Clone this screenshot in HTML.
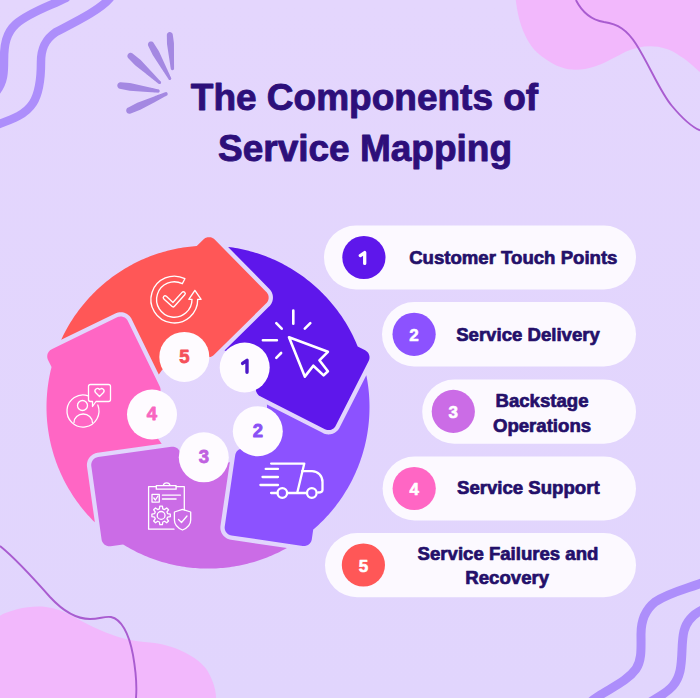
<!DOCTYPE html>
<html><head><meta charset="utf-8"><style>
html,body{margin:0;padding:0;background:#e4d6fd;overflow:hidden;width:700px;height:698px;}
svg{display:block;font-family:"Liberation Sans",sans-serif;}
</style></head><body>
<svg width="700" height="698" viewBox="0 0 700 698">
<defs><linearGradient id="bgg" x1="0" y1="0" x2="0" y2="1"><stop offset="0" stop-color="#e4d6fd"/><stop offset="1" stop-color="#e1d5fd"/></linearGradient></defs><rect width="700" height="698" fill="url(#bgg)"/>

<path d="M515.8 0 C518 20 525 45 543 57.3 C560 70 572 71 585 69 C600 66 610 60 625 52 C645 43 665 45 680 56 C690 62 697 70 700 72 L700 0 Z" fill="#f2b8fc"/>
<path d="M575.9 0 C582 12 592 20 604 22 C618 24 627 30 636 44 C650 66 660 92 672 106 C682 118 692 127 700 130.4" fill="none" stroke="#a95cd0" stroke-width="1.9"/>
<path d="M0 615.7 C10 610 30 605 46 607 C65 609 80 622 100 630 C115 637 135 642 150 642.5 C175 645 198 657 207 670 C213 680 216 690 216 698 L0 698 Z" fill="#f2b8fc"/>
<path d="M0 546 C15 558 35 580 50 597 C62 610 75 619 90 619 C100 619 104 616 111 617 C121 619 129 633 133 655 C136 672 137 686 136 698" fill="none" stroke="#a95cd0" stroke-width="1.9"/>
<path d="M66 -2 C50 6 30 12 16 24 C6 33 4 45 4 60 C4 72 4 82 -4 92" fill="none" stroke="#ad8efb" stroke-width="8.5" stroke-linecap="round"/>
<path d="M110 -2 C100 10 75 22 56 32 C44 40 41 50 41 62 C41 75 40 92 33 103 C26 114 14 119 -4 125" fill="none" stroke="#ad8efb" stroke-width="8.5" stroke-linecap="round"/>
<path d="M704 582 C690 588 670 592 655 602 C645 610 641 620 641 634 C641 648 642 660 636 669 C628 680 615 686 602 694 C596 698 592 700 590 703" fill="none" stroke="#ad8efb" stroke-width="9" stroke-linecap="round"/>
<path d="M704 609 C695 613 687 619 684 631 C681 643 683 657 680 671 C677 684 670 690 660 696 C655 699 652 701 649 703" fill="none" stroke="#ad8efb" stroke-width="9" stroke-linecap="round"/>
<path d="M172.16 33.19 L171.90 32.90 L171.29 32.42 L170.57 32.13 L170.19 32.05 L169.41 32.05 L168.66 32.25 L168.31 32.42 L167.70 32.90 L167.22 33.51 L166.93 34.23 L166.83 35.00 L167.01 44.04 L170.20 64.93 L170.20 65.32 L170.32 65.78 L170.33 66.17 L170.45 66.63 L170.46 67.02 L170.58 67.48 L170.59 67.87 L170.71 68.33 L170.71 68.72 L170.93 69.35 L171.37 69.85 L171.96 70.14 L172.40 70.20 L173.05 70.07 L173.60 69.70 L173.97 69.15 L174.10 68.50 L174.04 68.06 L174.09 67.64 L174.04 67.20 L174.09 66.78 L174.03 66.34 L174.08 65.92 L174.03 65.48 L174.08 65.06 L174.03 64.62 L173.95 43.59 L173.83 42.28 L172.75 34.61 L172.55 33.86 L172.16 33.19Z" fill="#a488e2"/><path d="M153.16 42.34 L152.53 41.85 L151.79 41.54 L151.00 41.44 L150.21 41.54 L149.47 41.85 L149.14 42.07 L148.84 42.34 L148.35 42.97 L148.04 43.71 L147.94 44.50 L147.97 44.90 L148.17 45.67 L152.72 55.01 L161.82 68.89 L161.97 69.22 L162.36 69.72 L162.51 70.06 L162.90 70.55 L163.06 70.89 L163.45 71.38 L163.60 71.73 L163.99 72.21 L164.15 72.56 L164.53 73.04 L164.69 73.40 L165.08 73.87 L165.24 74.23 L165.62 74.70 L165.78 75.07 L166.17 75.53 L166.32 75.91 L166.71 76.37 L166.87 76.74 L167.25 77.20 L167.41 77.58 L167.80 78.03 L167.96 78.41 L168.35 78.86 L168.61 79.41 L168.89 79.69 L169.41 79.95 L170.00 79.99 L170.37 79.89 L170.86 79.56 L171.19 79.07 L171.30 78.50 L171.19 77.93 L170.88 77.46 L170.77 77.03 L170.47 76.56 L170.35 76.13 L170.05 75.66 L169.94 75.23 L169.64 74.75 L169.52 74.33 L169.22 73.85 L169.11 73.43 L168.81 72.94 L168.69 72.53 L168.39 72.04 L168.28 71.63 L167.98 71.13 L167.86 70.73 L167.56 70.23 L167.44 69.83 L167.15 69.33 L167.03 68.93 L166.73 68.42 L166.61 68.03 L166.31 67.52 L166.20 67.13 L165.90 66.62 L165.78 66.24 L165.49 65.72 L165.37 65.34 L165.07 64.82 L159.13 51.85 L158.42 50.57 L153.65 42.97 L153.16 42.34Z" fill="#a488e2"/><path d="M131.44 52.88 L131.02 52.80 L130.18 52.80 L129.36 53.02 L128.63 53.44 L128.32 53.72 L127.80 54.38 L127.48 55.16 L127.37 56.00 L127.40 56.42 L127.62 57.24 L127.80 57.62 L128.32 58.28 L134.61 64.77 L135.71 65.79 L146.34 74.10 L146.72 74.47 L147.13 74.72 L147.51 75.09 L147.91 75.34 L148.30 75.71 L148.70 75.96 L149.08 76.33 L149.49 76.58 L149.87 76.95 L150.28 77.20 L150.66 77.57 L151.06 77.82 L151.44 78.19 L151.85 78.44 L152.23 78.81 L152.64 79.05 L153.02 79.43 L153.43 79.67 L153.81 80.05 L154.22 80.29 L154.59 80.67 L155.01 80.91 L155.38 81.29 L155.80 81.54 L156.17 81.91 L156.59 82.15 L156.95 82.53 L157.38 82.77 L157.74 83.15 L158.17 83.39 L158.53 83.77 L159.09 84.05 L159.71 84.09 L160.30 83.89 L160.63 83.63 L160.89 83.30 L161.09 82.71 L161.05 82.09 L160.77 81.53 L160.27 81.10 L159.94 80.64 L159.58 80.36 L159.26 79.90 L158.90 79.63 L158.57 79.17 L158.21 78.90 L157.88 78.44 L157.53 78.17 L157.19 77.71 L156.85 77.44 L156.50 76.97 L156.17 76.70 L155.82 76.24 L155.48 75.97 L155.13 75.51 L154.80 75.24 L154.44 74.77 L154.11 74.51 L153.75 74.04 L153.43 73.78 L153.07 73.31 L152.74 73.04 L152.38 72.58 L152.05 72.31 L151.69 71.84 L151.37 71.57 L140.68 60.12 L132.57 53.44 L132.22 53.20 L131.44 52.88Z" fill="#a488e2"/><path d="M119.33 82.54 L118.58 82.97 L117.97 83.58 L117.73 83.94 L117.54 84.33 L117.31 85.17 L117.31 86.03 L117.54 86.87 L117.97 87.62 L118.58 88.23 L118.94 88.47 L119.74 88.80 L129.68 90.83 L151.29 92.26 L151.63 92.23 L152.25 92.32 L152.60 92.29 L153.21 92.38 L153.56 92.35 L154.16 92.45 L154.52 92.41 L155.12 92.51 L155.49 92.47 L156.08 92.57 L156.45 92.53 L157.04 92.64 L157.42 92.59 L158.00 92.70 L158.44 92.64 L159.03 92.35 L159.35 92.03 L159.64 91.44 L159.69 90.78 L159.47 90.15 L159.03 89.65 L158.44 89.36 L157.89 89.31 L157.50 89.15 L156.95 89.09 L156.56 88.94 L156.01 88.88 L155.62 88.72 L155.06 88.66 L154.68 88.51 L154.12 88.45 L153.74 88.30 L153.17 88.23 L152.80 88.09 L152.23 88.02 L151.86 87.88 L151.29 87.80 L150.92 87.67 L150.35 87.59 L149.98 87.46 L131.19 83.24 L129.73 83.02 L120.60 82.28 L120.17 82.31 L119.33 82.54Z" fill="#a488e2"/><path d="M154.17 96.40 L137.32 102.68 L127.84 107.63 L127.48 107.87 L126.87 108.48 L126.63 108.84 L126.30 109.64 L126.21 110.07 L126.21 110.93 L126.44 111.77 L126.63 112.16 L126.87 112.52 L127.48 113.13 L128.23 113.56 L129.07 113.79 L129.93 113.79 L130.77 113.56 L140.29 109.86 L155.09 101.92 L155.45 101.66 L155.99 101.43 L156.35 101.18 L156.89 100.95 L157.24 100.70 L157.78 100.47 L158.14 100.21 L158.68 99.99 L159.04 99.73 L159.58 99.50 L159.93 99.25 L160.47 99.02 L160.83 98.77 L161.37 98.54 L161.72 98.28 L162.27 98.06 L162.62 97.79 L163.16 97.57 L163.52 97.31 L164.06 97.09 L164.42 96.82 L164.96 96.61 L165.32 96.34 L165.85 96.13 L166.22 95.85 L166.75 95.65 L167.31 95.16 L167.56 94.73 L167.68 94.25 L167.64 93.51 L167.31 92.84 L166.75 92.35 L166.05 92.12 L165.31 92.16 L164.68 92.47 L164.12 92.60 L163.73 92.82 L163.16 92.96 L162.77 93.18 L162.20 93.32 L161.82 93.54 L161.25 93.68 L160.87 93.89 L160.29 94.04 L159.91 94.25 L159.33 94.40 L158.96 94.61 L158.37 94.76 L158.00 94.97 L157.42 95.12 L157.04 95.32 L156.46 95.48 L156.08 95.68 L155.50 95.84 L155.13 96.04 L154.55 96.20 L154.17 96.40Z" fill="#a488e2"/>


<text x="364.5" y="109.5" text-anchor="middle" font-size="37" font-weight="bold" fill="#2d0f7a" stroke="#2d0f7a" stroke-width="0.9" stroke-linejoin="round">The Components of</text>
<text x="365" y="161" text-anchor="middle" font-size="37" font-weight="bold" fill="#2d0f7a" stroke="#2d0f7a" stroke-width="0.9" stroke-linejoin="round">Service Mapping</text>

<path d="M212.13 237.79 L211.39 237.52 L210.63 237.32 L209.86 237.20 L209.07 237.16 L208.29 237.19 L207.51 237.30 L206.75 237.49 L206.01 237.74 L205.29 238.07 L204.62 238.47 L203.98 238.93 L203.40 239.46 L196.76 245.99 L196.61 246.00 L194.33 246.18 L192.06 246.39 L189.80 246.63 L187.53 246.90 L185.27 247.21 L183.02 247.54 L180.77 247.91 L178.52 248.31 L176.28 248.75 L174.05 249.21 L171.82 249.70 L169.61 250.23 L167.40 250.79 L165.19 251.38 L163.00 252.00 L160.81 252.65 L158.64 253.33 L156.47 254.04 L154.31 254.78 L152.17 255.56 L150.03 256.36 L147.91 257.19 L145.80 258.06 L143.70 258.95 L141.62 259.87 L139.55 260.83 L137.49 261.81 L135.44 262.82 L133.41 263.86 L131.40 264.92 L129.40 266.02 L127.41 267.14 L125.45 268.29 L123.49 269.47 L121.56 270.68 L119.64 271.91 L117.74 273.18 L115.86 274.46 L114.00 275.78 L112.15 277.12 L110.33 278.48 L108.52 279.88 L106.73 281.29 L104.97 282.73 L103.22 284.20 L101.50 285.69 L99.79 287.21 L98.11 288.75 L96.45 290.31 L94.81 291.90 L93.20 293.51 L91.61 295.14 L90.04 296.80 L88.49 298.47 L86.97 300.17 L85.47 301.89 L84.00 303.63 L82.55 305.39 L81.13 307.17 L79.73 308.97 L78.36 310.79 L77.01 312.63 L75.69 314.49 L74.39 316.37 L73.13 318.27 L71.89 320.18 L70.67 322.11 L69.49 324.06 L68.33 326.02 L67.20 328.00 L66.09 330.00 L65.02 332.01 L63.97 334.03 L62.96 336.08 L61.97 338.13 L61.16 339.86 L115.26 313.47 L115.45 313.38 L116.17 313.07 L116.57 312.93 L117.31 312.69 L117.72 312.58 L118.49 312.42 L118.91 312.35 L119.69 312.27 L120.11 312.24 L120.89 312.23 L121.32 312.25 L122.10 312.31 L122.52 312.37 L123.29 312.51 L123.70 312.61 L124.45 312.83 L124.85 312.97 L125.58 313.26 L125.96 313.43 L126.66 313.80 L127.03 314.01 L127.68 314.44 L128.03 314.68 L128.64 315.17 L128.95 315.45 L129.52 316.00 L129.80 316.31 L130.31 316.91 L130.56 317.25 L131.01 317.90 L131.23 318.26 L131.61 318.94 L131.71 319.13 L158.77 374.59 L158.94 374.32 L159.76 373.13 L160.61 371.95 L161.49 370.80 L162.39 369.67 L163.32 368.56 L164.28 367.48 L165.27 366.42 L166.28 365.38 L167.32 364.37 L168.38 363.38 L169.46 362.42 L170.57 361.49 L171.70 360.59 L172.85 359.71 L174.03 358.86 L175.22 358.04 L176.44 357.25 L177.67 356.49 L178.92 355.76 L180.19 355.07 L181.47 354.40 L182.77 353.76 L184.09 353.16 L185.42 352.59 L186.77 352.05 L188.12 351.55 L189.49 351.08 L190.87 350.64 L192.26 350.24 L193.66 349.87 L195.07 349.53 L196.49 349.23 L196.89 349.16 L202.49 354.85 L203.07 355.39 L203.69 355.86 L204.36 356.27 L205.07 356.61 L205.81 356.88 L206.57 357.08 L207.34 357.20 L208.13 357.24 L208.91 357.21 L209.69 357.10 L210.45 356.91 L211.19 356.66 L211.91 356.33 L212.58 355.93 L213.22 355.47 L213.80 354.94 L266.25 303.31 L266.79 302.73 L267.26 302.11 L267.67 301.44 L268.01 300.73 L268.28 299.99 L268.48 299.23 L268.60 298.46 L268.64 297.67 L268.61 296.89 L268.50 296.11 L268.31 295.35 L268.06 294.61 L267.73 293.89 L267.33 293.22 L266.87 292.58 L266.34 292.00 L214.71 239.55 L214.13 239.01 L213.51 238.54 L212.84 238.13 L212.13 237.79Z" fill="#ff5757"/><path d="M354.99 340.20 L354.03 338.13 L353.04 336.08 L352.03 334.03 L350.98 332.01 L349.91 330.00 L348.80 328.00 L347.67 326.02 L346.51 324.06 L345.33 322.11 L344.11 320.18 L342.87 318.27 L341.61 316.37 L340.31 314.49 L338.99 312.63 L337.64 310.79 L336.27 308.97 L334.87 307.17 L333.45 305.39 L332.00 303.63 L330.53 301.89 L329.03 300.17 L327.51 298.47 L325.96 296.80 L324.39 295.14 L322.80 293.51 L321.19 291.90 L319.55 290.31 L317.89 288.75 L316.21 287.21 L314.50 285.69 L312.78 284.20 L311.03 282.73 L309.27 281.29 L307.48 279.88 L305.67 278.48 L303.85 277.12 L302.00 275.78 L300.14 274.46 L298.26 273.18 L296.36 271.91 L294.44 270.68 L292.51 269.47 L290.55 268.29 L288.59 267.14 L286.60 266.02 L284.60 264.92 L282.59 263.86 L280.56 262.82 L278.51 261.81 L276.45 260.83 L274.38 259.87 L272.30 258.95 L270.20 258.06 L268.09 257.19 L265.97 256.36 L263.83 255.56 L261.69 254.78 L259.53 254.04 L257.36 253.33 L255.19 252.65 L253.00 252.00 L250.81 251.38 L248.60 250.79 L246.39 250.23 L244.18 249.70 L241.95 249.21 L239.72 248.75 L237.48 248.31 L235.23 247.91 L232.98 247.54 L230.73 247.21 L228.47 246.90 L227.92 246.84 L269.41 288.98 L269.55 289.13 L270.07 289.72 L270.34 290.05 L270.80 290.68 L271.03 291.03 L271.43 291.71 L271.63 292.09 L271.96 292.80 L272.12 293.19 L272.37 293.93 L272.49 294.33 L272.68 295.10 L272.76 295.51 L272.87 296.29 L272.91 296.71 L272.94 297.49 L272.93 297.92 L272.89 298.70 L272.84 299.12 L272.72 299.90 L272.64 300.31 L272.44 301.07 L272.32 301.47 L272.05 302.21 L271.88 302.60 L271.54 303.30 L271.34 303.67 L270.93 304.34 L270.69 304.69 L270.22 305.32 L269.95 305.64 L269.42 306.22 L269.27 306.37 L224.49 350.46 L225.13 350.64 L226.51 351.08 L227.88 351.55 L229.23 352.05 L230.58 352.59 L231.91 353.16 L233.23 353.76 L234.53 354.40 L235.81 355.07 L237.08 355.76 L238.33 356.49 L239.56 357.25 L240.78 358.04 L241.97 358.86 L243.15 359.71 L244.30 360.59 L245.43 361.49 L246.54 362.42 L247.62 363.38 L248.68 364.37 L249.72 365.38 L250.73 366.42 L251.72 367.48 L252.68 368.56 L253.61 369.67 L254.51 370.80 L255.39 371.95 L256.24 373.13 L257.06 374.32 L257.85 375.54 L258.61 376.77 L259.34 378.02 L259.98 379.19 L256.75 385.53 L256.43 386.25 L256.18 386.99 L256.00 387.76 L255.90 388.54 L255.88 389.32 L255.93 390.10 L256.06 390.88 L256.27 391.64 L256.55 392.37 L256.90 393.07 L257.31 393.74 L257.79 394.36 L258.33 394.93 L258.92 395.45 L259.56 395.90 L260.24 396.29 L266.50 399.48 L324.93 429.25 L325.65 429.57 L326.39 429.82 L327.16 430.00 L327.94 430.10 L328.72 430.12 L329.50 430.07 L330.28 429.94 L331.04 429.73 L331.77 429.45 L332.47 429.10 L333.14 428.69 L333.76 428.21 L334.33 427.67 L334.85 427.08 L335.30 426.44 L335.69 425.76 L368.65 361.07 L368.97 360.35 L369.22 359.61 L369.40 358.84 L369.50 358.06 L369.52 357.28 L369.47 356.50 L369.34 355.72 L369.13 354.96 L368.85 354.23 L368.50 353.53 L368.09 352.86 L367.61 352.24 L367.07 351.67 L366.48 351.15 L365.84 350.70 L365.16 350.31 L357.70 346.51 L357.69 346.48 L356.82 344.38 L355.92 342.28 L354.99 340.20Z" fill="#5e17eb"/><path d="M318.72 524.67 L320.37 523.10 L322.00 521.50 L323.60 519.88 L325.18 518.23 L326.74 516.57 L328.27 514.88 L329.78 513.17 L331.27 511.44 L332.73 509.69 L334.16 507.92 L335.58 506.13 L336.96 504.32 L338.32 502.49 L339.65 500.64 L340.96 498.77 L342.24 496.88 L343.50 494.98 L344.72 493.06 L345.92 491.12 L347.10 489.16 L348.24 487.19 L349.36 485.20 L350.45 483.20 L351.51 481.18 L352.54 479.15 L353.54 477.10 L354.52 475.04 L355.46 472.96 L356.38 470.87 L357.26 468.77 L358.12 466.66 L358.94 464.53 L359.74 462.40 L360.50 460.25 L361.24 458.09 L361.94 455.92 L362.62 453.74 L363.26 451.55 L363.87 449.36 L364.45 447.15 L365.00 444.94 L365.52 442.72 L366.01 440.49 L366.47 438.26 L366.89 436.02 L367.28 433.77 L367.64 431.52 L367.97 429.26 L368.27 427.00 L368.53 424.74 L368.77 422.47 L368.97 420.20 L369.14 417.92 L369.27 415.65 L369.38 413.37 L369.45 411.09 L369.49 408.81 L369.50 406.53 L369.47 404.25 L369.42 401.97 L369.33 399.69 L369.21 397.41 L369.06 395.14 L368.87 392.87 L368.65 390.60 L368.41 388.33 L368.12 386.07 L367.81 383.81 L367.47 381.55 L367.09 379.31 L366.68 377.06 L366.31 375.14 L339.52 427.71 L339.42 427.89 L339.03 428.57 L338.80 428.93 L338.35 429.57 L338.09 429.90 L337.57 430.49 L337.28 430.80 L336.71 431.34 L336.39 431.61 L335.77 432.09 L335.42 432.33 L334.76 432.75 L334.39 432.95 L333.68 433.30 L333.30 433.47 L332.56 433.75 L332.16 433.88 L331.40 434.09 L330.99 434.18 L330.22 434.31 L329.80 434.36 L329.02 434.41 L328.59 434.42 L327.81 434.40 L327.39 434.36 L326.61 434.26 L326.19 434.19 L325.43 434.01 L325.02 433.90 L324.28 433.65 L323.89 433.50 L323.17 433.17 L322.98 433.08 L266.94 404.53 L266.98 405.65 L267.00 407.10 L266.98 408.55 L266.93 409.99 L266.84 411.44 L266.72 412.88 L266.56 414.32 L266.36 415.76 L266.13 417.19 L265.87 418.61 L265.57 420.03 L265.23 421.44 L264.86 422.84 L264.46 424.23 L264.02 425.61 L263.55 426.98 L263.05 428.33 L262.51 429.68 L261.94 431.01 L261.34 432.33 L260.70 433.63 L260.03 434.91 L259.34 436.18 L258.61 437.43 L257.85 438.66 L257.06 439.88 L256.24 441.07 L255.39 442.25 L254.51 443.40 L253.61 444.53 L252.68 445.64 L251.72 446.72 L250.73 447.78 L249.72 448.82 L249.34 449.19 L244.26 448.44 L243.48 448.37 L242.70 448.37 L241.92 448.45 L241.15 448.60 L240.39 448.83 L239.67 449.13 L238.98 449.50 L238.33 449.94 L237.72 450.44 L237.17 451.00 L236.67 451.60 L236.23 452.26 L235.86 452.95 L235.57 453.68 L235.34 454.43 L235.19 455.20 L234.51 459.81 L234.51 459.81 L224.74 526.44 L224.67 527.22 L224.67 528.00 L224.75 528.78 L224.90 529.55 L225.13 530.31 L225.43 531.03 L225.80 531.72 L226.24 532.37 L226.74 532.98 L227.30 533.53 L227.90 534.03 L228.56 534.47 L229.25 534.84 L229.98 535.13 L230.73 535.36 L231.50 535.51 L302.74 545.96 L303.52 546.03 L304.30 546.03 L305.08 545.95 L305.85 545.80 L306.61 545.57 L307.33 545.27 L308.02 544.90 L308.67 544.46 L309.28 543.96 L309.83 543.40 L310.33 542.80 L310.77 542.14 L311.14 541.45 L311.43 540.72 L311.66 539.97 L311.81 539.20 L313.22 529.62 L313.64 529.26 L315.36 527.75 L317.05 526.22 L318.72 524.67Z" fill="#8c52ff"/><path d="M130.40 548.73 L132.40 549.81 L134.43 550.87 L136.46 551.89 L138.52 552.89 L140.58 553.85 L142.66 554.79 L144.75 555.70 L146.86 556.58 L148.97 557.43 L151.10 558.24 L153.24 559.03 L155.39 559.79 L157.55 560.52 L159.72 561.22 L161.90 561.88 L164.09 562.52 L166.29 563.12 L168.50 563.69 L170.71 564.24 L172.94 564.75 L175.17 565.23 L177.40 565.67 L179.64 566.09 L181.89 566.48 L184.14 566.83 L186.40 567.15 L188.66 567.44 L190.93 567.70 L193.20 567.92 L195.47 568.11 L197.75 568.27 L200.02 568.40 L202.30 568.50 L204.58 568.56 L206.86 568.60 L209.14 568.60 L211.42 568.56 L213.70 568.50 L215.98 568.40 L218.25 568.27 L220.53 568.11 L222.80 567.92 L225.07 567.70 L227.34 567.44 L229.60 567.15 L231.86 566.83 L234.11 566.48 L236.36 566.09 L238.60 565.67 L240.83 565.23 L243.06 564.75 L245.29 564.24 L247.50 563.69 L249.71 563.12 L251.91 562.52 L254.10 561.88 L256.28 561.22 L258.45 560.52 L260.61 559.79 L262.76 559.03 L264.90 558.24 L267.03 557.43 L269.14 556.58 L271.25 555.70 L273.34 554.79 L275.42 553.85 L277.48 552.89 L279.54 551.89 L281.57 550.87 L283.60 549.81 L285.60 548.73 L286.94 547.99 L230.87 539.77 L230.67 539.73 L229.90 539.58 L229.49 539.48 L228.74 539.25 L228.34 539.11 L227.61 538.81 L227.23 538.63 L226.54 538.26 L226.18 538.05 L225.52 537.61 L225.18 537.36 L224.57 536.86 L224.26 536.58 L223.71 536.03 L223.42 535.71 L222.92 535.11 L222.67 534.77 L222.23 534.12 L222.02 533.76 L221.64 533.06 L221.46 532.68 L221.16 531.96 L221.02 531.56 L220.79 530.81 L220.69 530.40 L220.53 529.63 L220.47 529.21 L220.39 528.43 L220.37 528.01 L220.37 527.23 L220.39 526.80 L220.46 526.02 L220.49 525.81 L229.86 461.90 L229.23 462.15 L227.88 462.65 L226.51 463.12 L225.13 463.56 L223.74 463.96 L222.34 464.33 L220.93 464.67 L219.51 464.97 L218.09 465.23 L216.66 465.46 L215.22 465.66 L213.78 465.82 L212.34 465.94 L210.89 466.03 L209.45 466.08 L208.00 466.10 L206.55 466.08 L205.11 466.03 L203.66 465.94 L202.22 465.82 L200.78 465.66 L199.34 465.46 L197.91 465.23 L196.49 464.97 L195.07 464.67 L193.66 464.33 L192.26 463.96 L190.87 463.56 L189.49 463.12 L188.12 462.65 L186.77 462.15 L185.42 461.61 L184.09 461.04 L182.77 460.44 L181.47 459.80 L181.27 459.69 L180.41 453.60 L180.27 452.83 L180.04 452.07 L179.75 451.35 L179.38 450.65 L178.95 449.99 L178.46 449.38 L177.91 448.82 L177.31 448.32 L176.66 447.88 L175.97 447.51 L175.24 447.20 L174.49 446.97 L173.72 446.81 L172.94 446.72 L172.16 446.72 L171.38 446.79 L98.10 457.09 L97.33 457.23 L96.57 457.46 L95.85 457.75 L95.15 458.12 L94.49 458.55 L93.88 459.04 L93.32 459.59 L92.82 460.19 L92.38 460.84 L92.01 461.53 L91.70 462.26 L91.47 463.01 L91.31 463.78 L91.22 464.56 L91.22 465.34 L91.29 466.12 L101.59 539.40 L101.73 540.17 L101.96 540.93 L102.25 541.65 L102.62 542.35 L103.05 543.01 L103.54 543.62 L104.09 544.18 L104.69 544.68 L105.34 545.12 L106.03 545.49 L106.76 545.80 L107.51 546.03 L108.28 546.19 L109.06 546.28 L109.84 546.28 L110.62 546.21 L123.07 544.46 L124.47 545.32 L126.43 546.49 L128.40 547.62 L130.40 548.73Z" fill="#cb6ce6"/><path d="M49.23 351.15 L48.74 351.76 L48.31 352.42 L47.95 353.12 L47.66 353.85 L47.44 354.60 L47.30 355.37 L47.23 356.15 L47.24 356.94 L47.33 357.72 L47.49 358.49 L47.73 359.24 L48.03 359.96 L51.53 367.12 L51.27 368.15 L50.73 370.37 L50.23 372.59 L49.76 374.82 L49.32 377.06 L48.91 379.31 L48.53 381.55 L48.19 383.81 L47.88 386.07 L47.59 388.33 L47.35 390.60 L47.13 392.87 L46.94 395.14 L46.79 397.41 L46.67 399.69 L46.58 401.97 L46.53 404.25 L46.50 406.53 L46.51 408.81 L46.55 411.09 L46.62 413.37 L46.73 415.65 L46.86 417.92 L47.03 420.20 L47.23 422.47 L47.47 424.74 L47.73 427.00 L48.03 429.26 L48.36 431.52 L48.72 433.77 L49.11 436.02 L49.53 438.26 L49.99 440.49 L50.48 442.72 L51.00 444.94 L51.55 447.15 L52.13 449.36 L52.74 451.55 L53.38 453.74 L54.06 455.92 L54.76 458.09 L55.50 460.25 L56.26 462.40 L57.06 464.53 L57.88 466.66 L58.74 468.77 L59.62 470.87 L60.54 472.96 L61.48 475.04 L62.46 477.10 L63.46 479.15 L64.49 481.18 L65.55 483.20 L66.64 485.20 L67.76 487.19 L68.90 489.16 L70.08 491.12 L71.28 493.06 L72.50 494.98 L73.76 496.88 L75.04 498.77 L76.35 500.64 L77.68 502.49 L79.04 504.32 L80.42 506.13 L81.84 507.92 L83.27 509.69 L84.73 511.44 L86.22 513.17 L87.73 514.88 L89.26 516.57 L90.82 518.23 L92.40 519.88 L94.00 521.50 L94.85 522.33 L87.03 466.72 L87.01 466.51 L86.94 465.73 L86.92 465.31 L86.92 464.52 L86.95 464.10 L87.03 463.32 L87.10 462.90 L87.25 462.14 L87.36 461.73 L87.59 460.98 L87.74 460.58 L88.05 459.86 L88.23 459.48 L88.60 458.79 L88.82 458.43 L89.26 457.78 L89.52 457.44 L90.02 456.84 L90.31 456.53 L90.87 455.98 L91.18 455.70 L91.79 455.20 L92.13 454.95 L92.79 454.52 L93.15 454.31 L93.85 453.94 L94.23 453.77 L94.96 453.47 L95.36 453.33 L96.11 453.11 L96.52 453.01 L97.29 452.86 L97.50 452.83 L161.80 443.79 L161.49 443.40 L160.61 442.25 L159.76 441.07 L158.94 439.88 L158.15 438.66 L157.39 437.43 L156.66 436.18 L155.97 434.91 L155.30 433.63 L154.66 432.33 L154.06 431.01 L153.49 429.68 L152.95 428.33 L152.45 426.98 L151.98 425.61 L151.54 424.23 L151.14 422.84 L150.77 421.44 L150.43 420.03 L150.13 418.61 L149.87 417.19 L149.64 415.76 L149.44 414.32 L149.28 412.88 L149.16 411.44 L149.07 409.99 L149.02 408.55 L149.00 407.10 L149.02 405.65 L149.07 404.21 L149.16 402.76 L149.28 401.32 L149.38 400.41 L156.08 397.14 L156.77 396.76 L157.42 396.32 L158.02 395.81 L158.57 395.25 L159.06 394.64 L159.49 393.98 L159.85 393.28 L160.14 392.55 L160.36 391.80 L160.50 391.03 L160.57 390.25 L160.56 389.46 L160.47 388.68 L160.31 387.91 L160.07 387.16 L159.77 386.44 L156.13 378.99 L127.84 321.02 L127.46 320.33 L127.02 319.68 L126.51 319.08 L125.95 318.53 L125.34 318.04 L124.68 317.61 L123.98 317.25 L123.25 316.96 L122.50 316.74 L121.73 316.60 L120.95 316.53 L120.16 316.54 L119.38 316.63 L118.61 316.79 L117.86 317.03 L117.14 317.33 L51.72 349.26 L51.03 349.64 L50.38 350.08 L49.78 350.59 L49.23 351.15Z" fill="#ff66c4"/>

<g fill="none" stroke="#fff" stroke-linecap="round" stroke-linejoin="round">
<!-- cursor -->
<path d="M289 337.2 L327.9 351.8 L319.4 360.3 L327.9 371.2 L323.6 375.4 L313.3 365.7 L304.8 376.6 Z" stroke-width="2.6"/>
<path d="M293.3 310.5 V323.8 M276.3 323.2 L281.7 328.7 M310.3 323.2 L304.8 328.7 M262.9 340.2 H276.9 M276.3 357.8 L281.1 353" stroke-width="2.6"/>
<!-- truck -->
<g stroke-width="2.3">
<path d="M271.1 463.6 H304.3 L297.3 492.5"/>
<path d="M302.1 471.1 H312 C318 471.1 322.5 476 322.5 482 V490 C322.5 491.5 321 492.5 318.2 492.5"/>
<path d="M271.1 493 H277.5 M287.1 493 H306.9"/>
<circle cx="282.3" cy="493" r="4.8"/><circle cx="311.8" cy="493" r="4.8"/>
<path d="M265.7 468.9 H278 M262.5 477 H278 M260.4 485 H278"/>
</g>
<!-- refresh check -->
<g stroke-width="1.35">
<path d="M184.9 278.7 A23.4 23.4 0 1 0 197.7 299.3 L201.1 299.3 L194.9 290.4 L188.8 299.3 L192 299.3 A17.7 17.7 0 1 1 182.3 283.7 Z"/>
</g>
<path d="M165.1 297.6 L173.1 305 L183.4 293.6" stroke="#fff" stroke-width="5" stroke-linecap="round" stroke-linejoin="round"/>
<path d="M165.1 297.6 L173.1 305 L183.4 293.6" stroke="#ff5757" stroke-width="2.3" stroke-linecap="round" stroke-linejoin="round"/>
<!-- clipboard -->
<g stroke-width="1.3">
<path d="M174 529.2 H148.6 V486.6 H156.3 M176.1 486.6 H184.3 V510"/>
<path d="M156.3 485.7 H176.1 V489.2 H156.3 Z M163.2 485.7 A3.5 3.5 0 0 1 170.1 485.7"/>
<rect x="152" y="494.3" width="7.3" height="7.8"/>
<path d="M153.8 498 L155.4 500 L158 496"/>
<path d="M162.4 495.2 H180.4 M162.4 499 H176.1"/>
<circle cx="161.1" cy="515.4" r="3.9"/>
<path d="M174.4 512 L182.5 509.4 L190.7 512 V520 C190.7 525 186 528.5 182.5 530 C179 528.5 174.4 525 174.4 520 Z"/>
<path d="M178.5 519.5 L181.5 522.5 L187 516"/>
</g>
<!-- person -->
<g stroke-width="1.3">
<path d="M88.2 395.9 A16 16 0 1 0 97.8 405"/>
<circle cx="82.5" cy="405.5" r="5"/>
<path d="M74 422.5 A9.2 8.5 0 0 1 92.4 422.5"/>
<path d="M90.5 384.5 H108.5 A2 2 0 0 1 110.5 386.5 V399.5 A2 2 0 0 1 108.5 401.5 H96 L92.5 406.5 V401.5 H90.5 A2 2 0 0 1 88.5 399.5 V386.5 A2 2 0 0 1 90.5 384.5 Z"/>
<path d="M99.5 396.5 L95.5 392.5 A2.3 2.3 0 0 1 99.5 389.5 A2.3 2.3 0 0 1 103.5 392.5 Z"/>
</g>
</g>
<path d="M170.31 514.11 L170.31 516.69 L167.68 517.10 L166.96 518.85 L168.53 521.00 L166.70 522.83 L164.55 521.26 L162.80 521.98 L162.39 524.61 L159.81 524.61 L159.40 521.98 L157.65 521.26 L155.50 522.83 L153.67 521.00 L155.24 518.85 L154.52 517.10 L151.89 516.69 L151.89 514.11 L154.52 513.70 L155.24 511.95 L153.67 509.80 L155.50 507.97 L157.65 509.54 L159.40 508.82 L159.81 506.19 L162.39 506.19 L162.80 508.82 L164.55 509.54 L166.70 507.97 L168.53 509.80 L166.96 511.95 L167.68 513.70Z" fill="none" stroke="#fff" stroke-width="1.3" stroke-linejoin="round"/>
<circle cx="184.3" cy="356.9" r="25" fill="#fefbff"/><text x="184.3" y="362.5" text-anchor="middle" font-size="18.5" font-weight="bold" fill="#f5505a" stroke="#f5505a" stroke-width="0.8" stroke-linejoin="round">5</text><circle cx="244.7" cy="367.5" r="25" fill="#fefbff"/><path d="M242.6 363.4 L247.0 360.3 L247.0 372.3" fill="none" stroke="#4d17c8" stroke-width="3.4" stroke-linecap="round" stroke-linejoin="round"/><circle cx="257.8" cy="431.2" r="25" fill="#fefbff"/><text x="257.8" y="436.8" text-anchor="middle" font-size="18.5" font-weight="bold" fill="#8a50f5" stroke="#8a50f5" stroke-width="0.8" stroke-linejoin="round">2</text><circle cx="203.8" cy="457.3" r="25" fill="#fefbff"/><text x="203.8" y="462.9" text-anchor="middle" font-size="18.5" font-weight="bold" fill="#c061e0" stroke="#c061e0" stroke-width="0.8" stroke-linejoin="round">3</text><circle cx="152.0" cy="414.5" r="25" fill="#fefbff"/><text x="152.0" y="420.1" text-anchor="middle" font-size="18.5" font-weight="bold" fill="#f866c0" stroke="#f866c0" stroke-width="0.8" stroke-linejoin="round">4</text>
<rect x="324" y="225.5" width="312" height="64.0" rx="32.0" fill="#fcf9ff"/><circle cx="363.9" cy="257.5" r="21.6" fill="#5e17eb"/><path d="M360.3 255.6 L364.7 252.6 L364.7 263.4" fill="none" stroke="#fff" stroke-width="3.3" stroke-linecap="round" stroke-linejoin="round"/><text x="513.3" y="264.2" text-anchor="middle" font-size="18.6" font-weight="bold" fill="#24106a" stroke="#24106a" stroke-width="0.7" stroke-linejoin="round">Customer Touch Points</text><rect x="382" y="302" width="254" height="64.39999999999998" rx="32.19999999999999" fill="#fcf9ff"/><circle cx="414.1" cy="334.3" r="21.6" fill="#8c52ff"/><text x="414.1" y="340.90000000000003" text-anchor="middle" font-size="17" font-weight="bold" fill="#fff" stroke="#fff" stroke-width="0.6" stroke-linejoin="round">2</text><text x="528" y="341" text-anchor="middle" font-size="18.6" font-weight="bold" fill="#24106a" stroke="#24106a" stroke-width="0.7" stroke-linejoin="round">Service Delivery</text><rect x="422.2" y="379.6" width="213.8" height="64.09999999999997" rx="32.04999999999998" fill="#fcf9ff"/><circle cx="453.3" cy="411.4" r="21.6" fill="#cb6ce6"/><text x="453.3" y="418.0" text-anchor="middle" font-size="17" font-weight="bold" fill="#fff" stroke="#fff" stroke-width="0.6" stroke-linejoin="round">3</text><text x="542" y="407.2" text-anchor="middle" font-size="18.6" font-weight="bold" fill="#24106a" stroke="#24106a" stroke-width="0.7" stroke-linejoin="round">Backstage</text><text x="542" y="432.2" text-anchor="middle" font-size="18.6" font-weight="bold" fill="#24106a" stroke="#24106a" stroke-width="0.7" stroke-linejoin="round">Operations</text><rect x="382.6" y="456.6" width="253.39999999999998" height="63.89999999999998" rx="31.94999999999999" fill="#fcf9ff"/><circle cx="414.2" cy="488.5" r="21.6" fill="#ff66c4"/><text x="414.2" y="495.1" text-anchor="middle" font-size="17" font-weight="bold" fill="#fff" stroke="#fff" stroke-width="0.6" stroke-linejoin="round">4</text><text x="528.3" y="494.2" text-anchor="middle" font-size="18.6" font-weight="bold" fill="#24106a" stroke="#24106a" stroke-width="0.7" stroke-linejoin="round">Service Support</text><rect x="325" y="533" width="311" height="64.29999999999995" rx="32.14999999999998" fill="#fcf9ff"/><circle cx="363.4" cy="565" r="21.6" fill="#ff5757"/><text x="363.4" y="571.6" text-anchor="middle" font-size="17" font-weight="bold" fill="#fff" stroke="#fff" stroke-width="0.6" stroke-linejoin="round">5</text><text x="508" y="559.6" text-anchor="middle" font-size="18.6" font-weight="bold" fill="#24106a" stroke="#24106a" stroke-width="0.7" stroke-linejoin="round">Service Failures and</text><text x="507.2" y="583.9" text-anchor="middle" font-size="18.6" font-weight="bold" fill="#24106a" stroke="#24106a" stroke-width="0.7" stroke-linejoin="round">Recovery</text>
</svg>
</body></html>
